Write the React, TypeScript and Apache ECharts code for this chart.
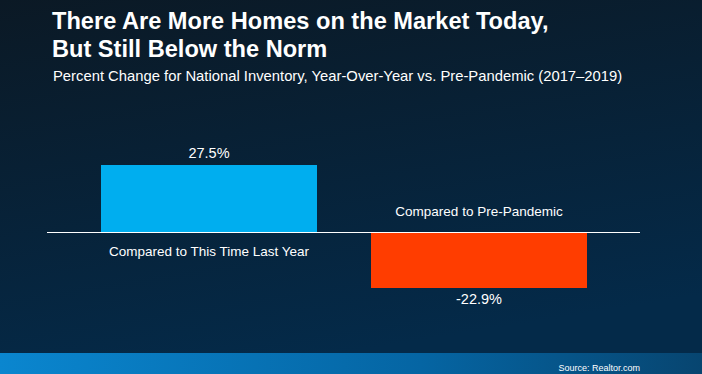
import React, { useEffect, useRef } from "react";
import * as echarts from "echarts";

const titleLines = ["There Are More Homes on the Market Today,", "But Still Below the Norm"];
const subtitle = "Percent Change for National Inventory, Year-Over-Year vs. Pre-Pandemic (2017–2019)";
const source = "Source: Realtor.com";
const categories = ["Compared to This Time Last Year", "Compared to Pre-Pandemic"];
const values = [27.5, -22.9];
const barColors = ["#00AEEF", "#FF3D00"];

const FONT = "'Liberation Sans', Arial, sans-serif";

export default function App() {
  const ref = useRef<HTMLDivElement>(null);
  useEffect(() => {
    if (!ref.current) return;
    const chart = echarts.init(ref.current, null, { renderer: "svg" });
    const option: any = {
      animation: false,
      backgroundColor: {
        type: "linear", x: 0, y: 0, x2: 0.3, y2: 1,
        colorStops: [
          { offset: 0, color: "#0b1925" },
          { offset: 1, color: "#042a49" },
        ],
      },
      title: [
        {
          text: titleLines.join("\n"),
          left: 47, top: 2,
          textStyle: { color: "#fff", fontSize: 23.6, fontWeight: "bold", lineHeight: 28, fontFamily: FONT },
        },
        {
          text: subtitle,
          left: 48, top: 63,
          textStyle: { color: "#fff", fontSize: 14.8, lineHeight: 15, fontWeight: "normal", fontFamily: FONT },
        },
      ],
      grid: { left: 74, right: 88, top: 134.4, bottom: 68.8 },
      xAxis: {
        type: "category",
        data: categories,
        axisLine: { show: false },
        axisTick: { show: false },
        axisLabel: { show: false },
      },
      yAxis: { type: "value", min: -30, max: 40, show: false, splitLine: { show: false } },
      series: [
        {
          type: "bar",
          barWidth: 216,
          data: values.map((v, i) => ({
            value: v,
            itemStyle: { color: barColors[i] },
            label: {
              show: true,
              position: v >= 0 ? "top" : "bottom",
              distance: 4,
              formatter: (p: any) => `${p.value}%`,
              color: "#fff",
              fontSize: 14.5,
              fontFamily: FONT,
            },
          })),
        },
        {
          type: "scatter",
          symbolSize: 0,
          silent: true,
          itemStyle: { opacity: 1 },
          data: categories.map((c, i) => ({
            value: [c, 0],
            label: {
              show: true,
              position: values[i] >= 0 ? "bottom" : "top",
              distance: values[i] >= 0 ? 12 : 14,
              formatter: c,
              color: "#ffffff",
              opacity: 1,
              textBorderWidth: 0,
              fontSize: 13.5,
              fontFamily: FONT,
            },
          })),
        },
      ],
      graphic: [],
    };
    chart.setOption(option);
    const y0 = chart.convertToPixel({ yAxisIndex: 0 }, 0) as number;
    chart.setOption({
      graphic: [
        {
          type: "line",
          shape: { x1: 47, y1: Math.round(y0) + 0.5, x2: 640, y2: Math.round(y0) + 0.5 },
          style: { stroke: "#ffffff", lineWidth: 1 },
          z: 10,
        },
        {
          type: "rect",
          shape: { x: 0, y: 353, width: 702, height: 21 },
          style: {
            fill: {
              type: "linear", x: 0, y: 0, x2: 1, y2: 0,
              colorStops: [
                { offset: 0, color: "#0a86cf" },
                { offset: 0.6, color: "#0565a3" },
                { offset: 1, color: "#074570" },
              ],
            } as any,
          },
        },
        {
          type: "text",
          x: 640, y: 368,
          style: { text: source, fill: "#fff", fontSize: 9, fontFamily: FONT, align: "right", verticalAlign: "middle" },
        },
      ],
    });
    return () => chart.dispose();
  }, []);
  return <div ref={ref} style={{ position: "fixed", left: 0, top: 0, width: 702, height: 374 }} />;
}
